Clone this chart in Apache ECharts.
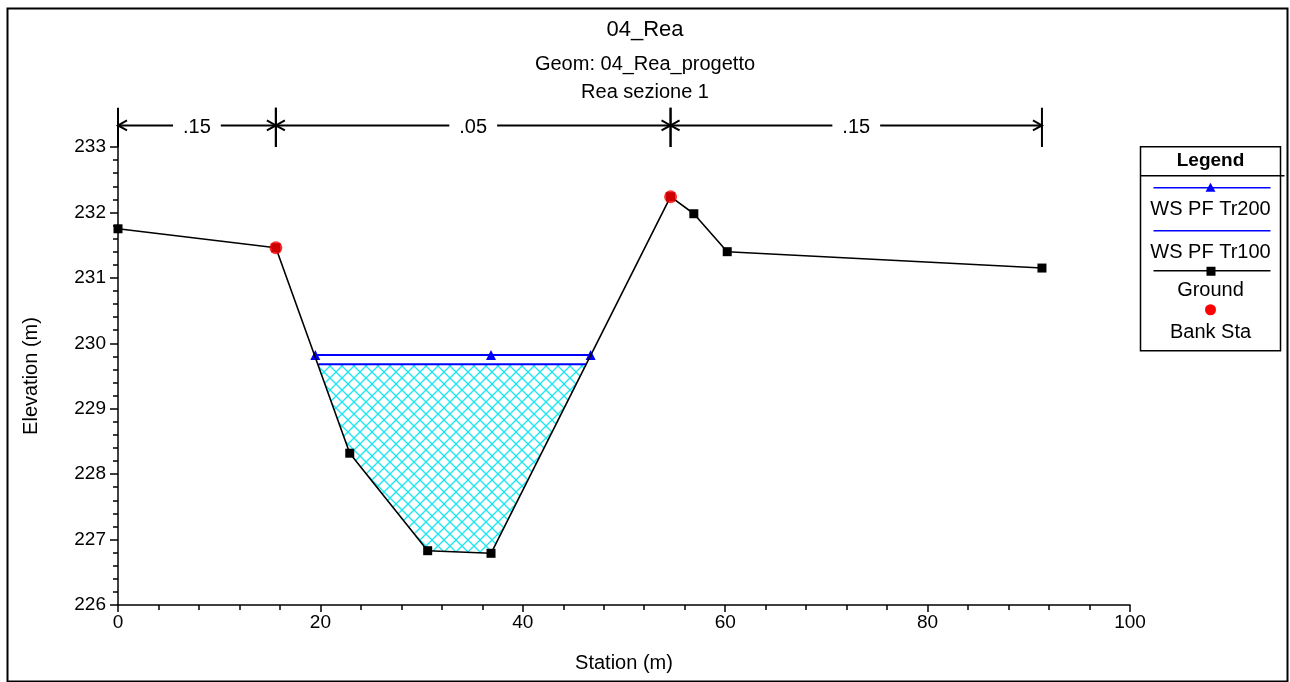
<!DOCTYPE html>
<html><head><meta charset="utf-8">
<script src="https://cdn.jsdelivr.net/npm/echarts@6/dist/echarts.min.js"></script>
<style>html,body{margin:0;padding:0;background:#fff}#c{width:1290px;height:682px}</style>
</head><body><div id="c"></div>
<script>
// ---- data ----
const groundStation = [0, 15.6, 22.9, 30.6, 36.86, 54.6, 56.9, 60.2, 91.3];
const groundElev    = [231.75, 231.46, 228.32, 226.83, 226.79, 232.24, 231.98, 231.40, 231.15];
const bankStation   = [15.6, 54.6];
const bankElev      = [231.46, 232.24];
const ws200Station  = [19.5, 36.86, 46.7];
const ws200Elev     = [229.82, 229.82, 229.82];
const ws100Station  = [19.8, 46.3];
const ws100Elev     = [229.68, 229.68];
const nBreaks       = [0, 15.6, 54.6, 91.3];
const nValues       = ['.15', '.05', '.15'];
const nLineElev     = 233.33;
const nBarTop       = 233.6;
const nBarBottom    = 233.0;
const titleText     = '04_Rea';
const subTitle1     = 'Geom: 04_Rea_progetto';
const subTitle2     = 'Rea sezione 1';

const FONT = '"Liberation Sans", Arial, sans-serif';

// water polygon: ground clipped at WS Tr100 level
function waterPolygon(level) {
  const pts = [];
  for (let i = 0; i < groundStation.length - 1; i++) {
    const x0 = groundStation[i], y0 = groundElev[i];
    const x1 = groundStation[i + 1], y1 = groundElev[i + 1];
    if (y0 <= level) pts.push([x0, y0]);
    if ((y0 - level) * (y1 - level) < 0) {
      const t = (level - y0) / (y1 - y0);
      pts.push([x0 + t * (x1 - x0), level]);
    }
  }
  return pts;
}
const fillPts = waterPolygon(ws100Elev[0]);

// crosshatch pattern
const pc = document.createElement('canvas');
pc.width = 12; pc.height = 12;
const g = pc.getContext('2d');
g.fillStyle = '#ffffff'; g.fillRect(0, 0, 12, 12);
g.strokeStyle = '#19E6F0'; g.lineWidth = 1.3;
g.beginPath();
g.moveTo(0, 0); g.lineTo(12, 12);
g.moveTo(12, 0); g.lineTo(0, 12);
g.stroke();

const chart = echarts.init(document.getElementById('c'), null, {renderer: 'canvas'});

const legendX = 1138, legendW = 140;

chart.setOption({
  backgroundColor: '#ffffff',
  animation: false,
  title: [
    {text: titleText, left: 'center', top: 14, textStyle: {fontFamily: FONT, fontSize: 22, fontWeight: 'normal', color: '#000'}},
    {text: subTitle1, left: 'center', top: 49, textStyle: {fontFamily: FONT, fontSize: 20, fontWeight: 'normal', color: '#000'}},
    {text: subTitle2, left: 'center', top: 77, textStyle: {fontFamily: FONT, fontSize: 20, fontWeight: 'normal', color: '#000'}}
  ],
  grid: {left: 118, right: 160, top: 147, bottom: 77, containLabel: false},
  xAxis: {
    type: 'value', min: 0, max: 100, interval: 20,
    name: 'Station (m)', nameLocation: 'middle', nameGap: 48,
    nameTextStyle: {fontFamily: FONT, fontSize: 20, color: '#000'},
    axisLine: {lineStyle: {color: '#000', width: 1.5}},
    axisTick: {length: 7, lineStyle: {color: '#000', width: 1.5}},
    minorTick: {show: true, splitNumber: 5, length: 5, lineStyle: {color: '#000', width: 1.5}},
    axisLabel: {fontFamily: FONT, fontSize: 19, color: '#000', margin: 8},
    splitLine: {show: false}
  },
  yAxis: {
    type: 'value', min: 226, max: 233, interval: 1,
    name: 'Elevation (m)', nameLocation: 'middle', nameGap: 77,
    nameTextStyle: {fontFamily: FONT, fontSize: 20, color: '#000'},
    axisLine: {lineStyle: {color: '#000', width: 1.5}},
    axisTick: {length: 8, lineStyle: {color: '#000', width: 1.5}},
    minorTick: {show: true, splitNumber: 5, length: 5, lineStyle: {color: '#000', width: 1.5}},
    axisLabel: {fontFamily: FONT, fontSize: 19, color: '#000', margin: 12},
    splitLine: {show: false}
  },
  series: [
    {
      name: 'WaterFill', type: 'custom', silent: true, z: 1,
      data: [0],
      renderItem: function (params, api) {
        const points = fillPts.map(p => api.coord(p));
        return {type: 'polygon', shape: {points: points},
          style: {fill: {image: pc, repeat: 'repeat'}, stroke: null}};
      }
    },
    {
      name: 'WS PF Tr200', type: 'line', z: 3,
      data: ws200Station.map((s, i) => [s, ws200Elev[i]]),
      lineStyle: {color: '#0000FF', width: 2},
      itemStyle: {color: '#0000FF'},
      symbol: 'triangle', symbolSize: 10, showAllSymbol: true
    },
    {
      name: 'WS PF Tr100', type: 'line', z: 3,
      data: ws100Station.map((s, i) => [s, ws100Elev[i]]),
      lineStyle: {color: '#0000FF', width: 2},
      symbol: 'none'
    },
    {
      name: 'Ground', type: 'line', z: 4,
      data: groundStation.map((s, i) => [s, groundElev[i]]),
      lineStyle: {color: '#000', width: 1.6},
      itemStyle: {color: '#000'},
      symbol: 'rect', symbolSize: 9, showAllSymbol: true
    },
    {
      name: 'Bank Sta', type: 'scatter', z: 5,
      data: bankStation.map((s, i) => [s, bankElev[i]]),
      itemStyle: {color: '#FF0000'},
      symbol: 'circle', symbolSize: 13
    },
    {
      name: 'nValues', type: 'custom', clip: false, silent: true, z: 6,
      data: nValues.map((v, i) => [nBreaks[i], nBreaks[i + 1], i]),
      renderItem: function (params, api) {
        const x0 = api.value(0), x1 = api.value(1), idx = api.value(2);
        const a = api.coord([x0, nLineElev]);
        const b = api.coord([x1, nLineElev]);
        const top0 = api.coord([x0, nBarTop]), bot0 = api.coord([x0, nBarBottom]);
        const top1 = api.coord([x1, nBarTop]), bot1 = api.coord([x1, nBarBottom]);
        const ah = 9, aw = 5;
        const st = {stroke: '#000', lineWidth: 2, fill: null};
        return {type: 'group', children: [
          {type: 'line', shape: {x1: top0[0], y1: top0[1], x2: bot0[0], y2: bot0[1]}, style: st},
          {type: 'line', shape: {x1: top1[0], y1: top1[1], x2: bot1[0], y2: bot1[1]}, style: st},
          {type: 'line', shape: {x1: a[0], y1: a[1], x2: b[0], y2: b[1]}, style: st},
          {type: 'polyline', shape: {points: [[a[0] + ah, a[1] - aw], [a[0], a[1]], [a[0] + ah, a[1] + aw]]}, style: st},
          {type: 'polyline', shape: {points: [[b[0] - ah, b[1] - aw], [b[0], b[1]], [b[0] - ah, b[1] + aw]]}, style: st},
          {type: 'text', x: (a[0] + b[0]) / 2, y: a[1] + 2,
            style: {text: nValues[idx], align: 'center', verticalAlign: 'middle',
              font: '20px ' + FONT, fill: '#000', backgroundColor: '#fff', padding: [2, 10]}}
        ]};
      }
    }
  ],
  graphic: [
    {type: 'rect', left: 5, top: 6, shape: {width: 1280, height: 673},
      style: {fill: null, stroke: '#000', lineWidth: 2}, z: 100},
    // legend box
    {type: 'group', left: legendX, top: 146, z: 100, children: [
      {type: 'rect', shape: {x: 0, y: 0, width: legendW, height: 204}, style: {fill: '#fff', stroke: '#000', lineWidth: 1.5}},
      {type: 'line', shape: {x1: 0, y1: 29, x2: legendW + 4, y2: 29}, style: {stroke: '#000', lineWidth: 1.5}},
      {type: 'text', x: legendW / 2, y: 14, style: {text: 'Legend', align: 'center', verticalAlign: 'middle', font: 'bold 19px ' + FONT, fill: '#000'}},
      {type: 'line', shape: {x1: 13, y1: 41, x2: 130, y2: 41}, style: {stroke: '#0000FF', lineWidth: 1.5}},
      {type: 'polygon', shape: {points: [[70, 36], [75, 45], [65, 45]]}, style: {fill: '#0000FF'}},
      {type: 'text', x: legendW / 2, y: 63, style: {text: 'WS PF Tr200', align: 'center', verticalAlign: 'middle', font: '20px ' + FONT, fill: '#000'}},
      {type: 'line', shape: {x1: 13, y1: 84, x2: 130, y2: 84}, style: {stroke: '#0000FF', lineWidth: 1.5}},
      {type: 'text', x: legendW / 2, y: 106, style: {text: 'WS PF Tr100', align: 'center', verticalAlign: 'middle', font: '20px ' + FONT, fill: '#000'}},
      {type: 'line', shape: {x1: 13, y1: 124, x2: 130, y2: 124}, style: {stroke: '#000', lineWidth: 1.5}},
      {type: 'rect', shape: {x: 66, y: 120, width: 9, height: 9}, style: {fill: '#000'}},
      {type: 'text', x: legendW / 2, y: 144, style: {text: 'Ground', align: 'center', verticalAlign: 'middle', font: '20px ' + FONT, fill: '#000'}},
      {type: 'circle', shape: {cx: 70, cy: 163, r: 5.5}, style: {fill: '#FF0000'}},
      {type: 'text', x: legendW / 2, y: 186, style: {text: 'Bank Sta', align: 'center', verticalAlign: 'middle', font: '20px ' + FONT, fill: '#000'}}
    ]}
  ]
});
</script>
</body></html>
